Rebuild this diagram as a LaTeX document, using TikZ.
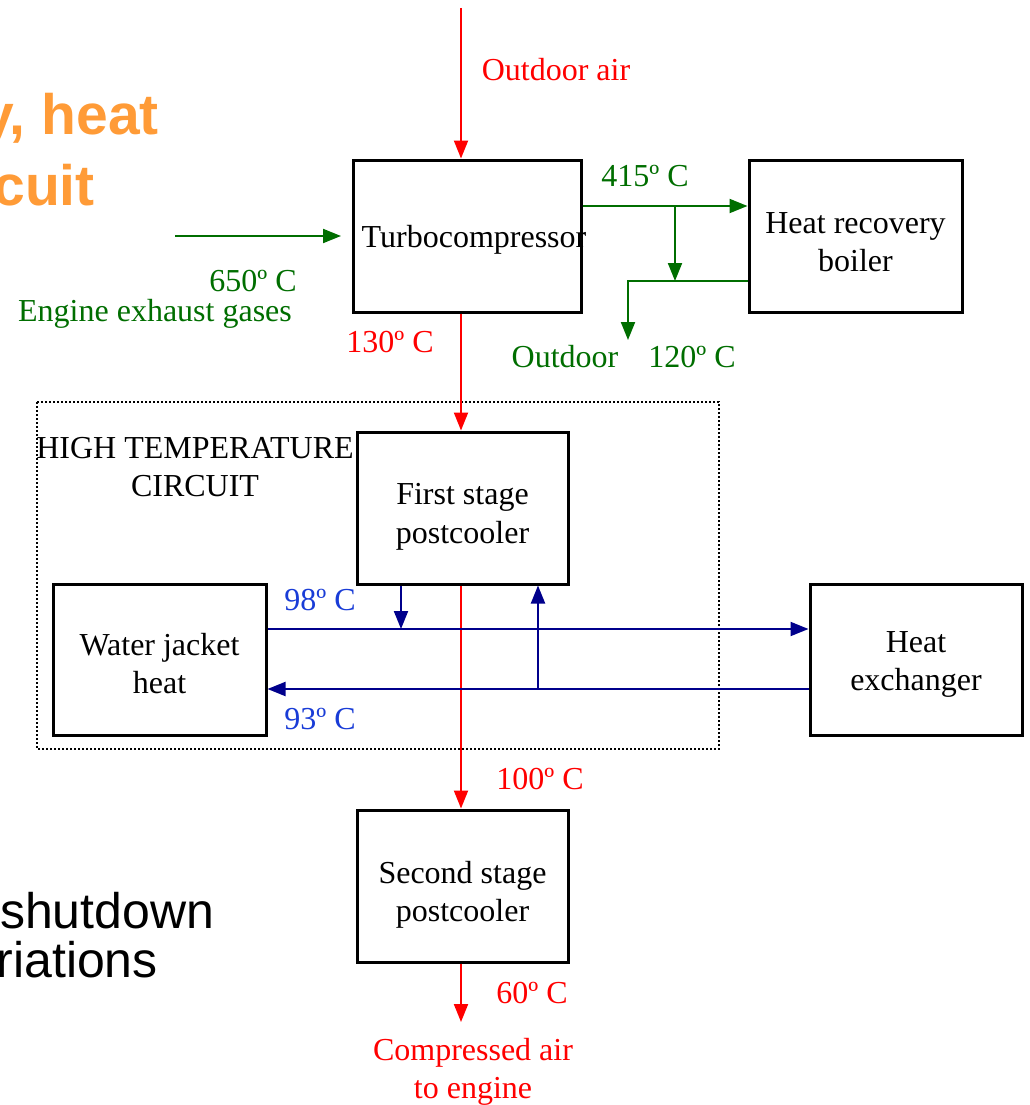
\documentclass[tikz,border=0pt]{standalone}
\usepackage{fontspec}
\setmainfont{Liberation Serif}
\newfontfamily\arialfont{Liberation Sans}
\usetikzlibrary{arrows.meta}
\definecolor{myred}{RGB}{255,0,0}
\definecolor{mygreen}{RGB}{0,110,0}
\definecolor{mynavy}{RGB}{0,0,140}
\definecolor{myblue}{RGB}{25,60,215}
\definecolor{myorange}{RGB}{255,155,55}
\begin{document}
\begin{tikzpicture}[x=1pt,y=-1pt,
  box/.style={draw=black, line width=3pt, inner sep=0pt},
  lbl/.style={inner sep=0pt, align=center, font=\fontsize{32}{38.4}\selectfont},
  arr/.style={line width=2pt, -{Triangle[length=18pt,width=14pt]}},
  redarr/.style={arr, draw=myred},
  greenarr/.style={arr, draw=mygreen},
  bluearr/.style={arr, draw=mynavy},
  bigtitle/.style={inner sep=0pt, text=myorange, font=\arialfont\bfseries\fontsize{57}{60}\selectfont},
  bullettext/.style={inner sep=0pt, text=black, font=\arialfont\fontsize{50}{56}\selectfont}
]
\useasboundingbox (0,0) rectangle (1029,1105);
\clip (0,0) rectangle (1029,1105);
\fill[white] (0,0) rectangle (1029,1105);

% background slide text (cut off at the edge)
\node[bigtitle, anchor=base east] (t1) at (159,135) {y, heat};
\node[bigtitle, anchor=base east] (t2) at (95,205) {cuit};
\node[bullettext, anchor=base west] (b1) at (0,928) {shutdown};
\node[bullettext, anchor=base east] (b2) at (158,977) {riations};

% dotted circuit frame
\draw[black, line width=2pt, dash pattern=on 2pt off 2pt] (37,402) rectangle (719,749);

% boxes
\node[box, minimum width=228pt, minimum height=152pt] (tc) at (467,236) {};
\node[box, minimum width=213pt, minimum height=152pt] (hrb) at (855.5,236) {};
\node[box, minimum width=211pt, minimum height=152pt] (fs) at (462.5,508) {};
\node[box, minimum width=213pt, minimum height=151pt] (wj) at (159.5,659.5) {};
\node[box, minimum width=212pt, minimum height=151pt] (he) at (916,659.5) {};
\node[box, minimum width=211pt, minimum height=152pt] (ss) at (462.5,886) {};

% box texts
\node[lbl] (tctxt) at ([xshift=7pt,yshift=-4pt]tc.center) {Turbocompressor};
\node[lbl] (hrbtxt) at ([yshift=-6pt]hrb.center) {Heat recovery\\boiler};
\node[lbl] (fstxt) at ([yshift=-9pt]fs.center) {First stage\\postcooler};
\node[lbl] (wjtxt) at ([yshift=-4pt]wj.center) {Water jacket\\heat};
\node[lbl] (hetxt) at ([yshift=-5pt]he.center) {Heat\\exchanger};
\node[lbl] (sstxt) at ([yshift=-9pt]ss.center) {Second stage\\postcooler};

% coordinates
\coordinate (oa) at (461,8);
\coordinate (ca) at (461,1022);
\coordinate (ex1) at (175,236);
\coordinate (ex2) at (341,236);
\coordinate (j1) at (675,206);
\coordinate (j2) at (675,281);
\coordinate (od) at (628,340);
\coordinate (bd) at (401,629);
\coordinate (bu) at (538,689);

% red air path
\draw[redarr] (oa) -- (oa |- tc.north);
\draw[redarr] (oa |- tc.south) -- (oa |- fs.north);
\draw[redarr] (oa |- fs.south) -- (oa |- ss.north);
\draw[redarr] (oa |- ss.south) -- (ca);

% green exhaust path
\draw[greenarr] (ex1) -- (ex2);
\draw[greenarr] ([yshift=30pt]tc.east) -- ([yshift=30pt]hrb.west);
\draw[greenarr] (j1) -- (j2);
\draw[greenarr] ([yshift=-45pt]hrb.west) -| (od);

% blue water path
\draw[bluearr] ([yshift=30.5pt]wj.east) -- ([yshift=30.5pt]he.west);
\draw[bluearr] ([yshift=-29.5pt]he.west) -- ([yshift=-29.5pt]wj.east);
\draw[bluearr] (bd |- fs.south) -- (bd);
\draw[bluearr] (bu) -- (bu |- fs.south);

% labels
\node[lbl, text=myred] (l1) at (556,70) {Outdoor air};
\node[lbl, text=mygreen] (l2) at (645,176) {415º C};
\node[lbl, text=mygreen] (l3) at (253,281) {650º C};
\node[lbl, text=mygreen] (l4) at (155,314) {Engine exhaust gases};
\node[lbl, text=myred] (l5) at (390,342) {130º C};
\node[lbl, text=mygreen] (l6) at (565,357) {Outdoor};
\node[lbl, text=mygreen] (l7) at (692,357) {120º C};
\node[lbl, text=black] (l8) at (195,467) {HIGH TEMPERATURE\\CIRCUIT};
\node[lbl, text=myblue] (l9) at (320,600) {98º C};
\node[lbl, text=myblue] (l10) at (320,719) {93º C};
\node[lbl, text=myred] (l11) at (540,779) {100º C};
\node[lbl, text=myred] (l12) at (532,993) {60º C};
\node[lbl, text=myred] (l13) at (473,1072) {Compressed air\\to engine};
\end{tikzpicture}
\end{document}
